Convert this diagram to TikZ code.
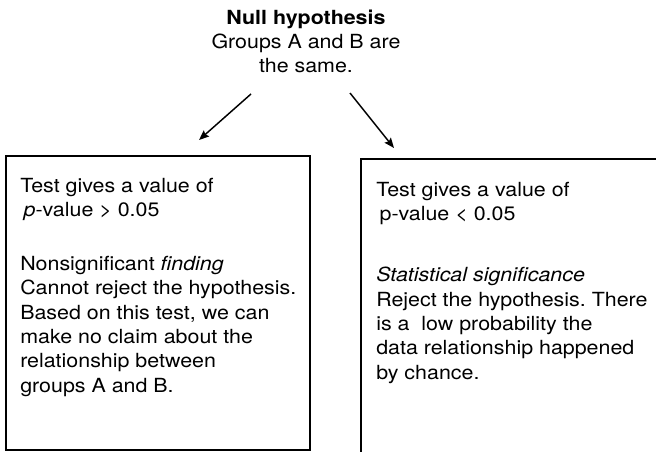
\documentclass[tikz,border=0pt]{standalone}
\usepackage{fontspec}
\setmainfont{TeX Gyre Heros}[FakeStretch=1.1]
\usetikzlibrary{arrows.meta}
\begin{document}
\frenchspacing
\begin{tikzpicture}[x=0.75pt,y=-0.75pt,
  txt/.style={font=\fontsize{14.6pt}{18.3pt}\selectfont, inner sep=0pt, align=left, anchor=north west},
  panel/.style={draw, line width=1.1pt, rectangle, inner sep=0pt},
  arr/.style={line width=1.1pt, -{Stealth[length=7.5pt,width=6pt,inset=1.2pt]}}]
\clip (0,0) rectangle (656,452);
% title
\node[txt, align=center, anchor=north] (title) at (306,9.3)
  {\textbf{Null hypothesis}\\Groups A and B are\\the same.};
% panels
\node[panel, minimum width=228pt, minimum height=220.5pt] (left) at (158,303) {};
\node[panel, minimum width=254.25pt, minimum height=233.25pt] (right) at (530.5,314.5) {};
% arrows
\coordinate (la1) at (251,94);
\coordinate (la2) at (199,140);
\coordinate (ra1) at (350,93);
\coordinate (ra2) at (394,148);
\draw[arr] (la1) -- (la2);
\draw[arr] (ra1) -- (ra2);
% left text
\node[txt] (l1) at (20,177.8) {Test gives a value of\\\hspace{2.5pt}\textit{p}-value > 0.05};
\node[txt] (l2) at (20,255.8) {Nonsignificant \textit{finding}\\Cannot reject the hypothesis.\\Based on this test, we can\\make no claim about the\\relationship between\\groups A and B.};
% right text
\node[txt] (r1) at (376,181.8) {Test gives a value of\\\hspace{2.5pt}p-value < 0.05};
\node[txt] (r2) at (376,266.8) {\textit{Statistical significance}\\Reject the hypothesis. There\\is a\ \ low probability the\\data relationship happened\\by chance.};
\end{tikzpicture}
\end{document}
